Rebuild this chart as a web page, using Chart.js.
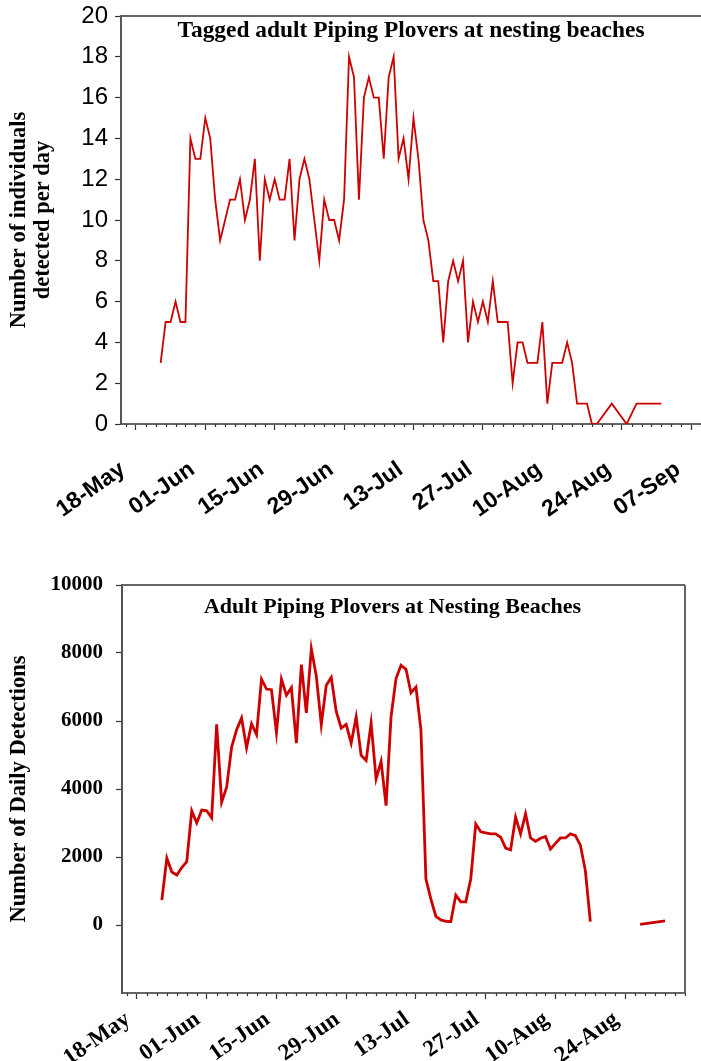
<!DOCTYPE html>
<html><head><meta charset="utf-8">
<script src="https://cdn.jsdelivr.net/npm/chart.js@4.4.1/dist/chart.umd.min.js"></script>
<style>
html,body{margin:0;padding:0;background:#fff;}
body{width:701px;height:1061px;position:relative;overflow:hidden;}
canvas{position:absolute;left:0;}
#c1{top:0;}
#c2{top:560px;}
</style></head><body>
<canvas id="c1" width="701" height="540"></canvas>
<canvas id="c2" width="701" height="501"></canvas>
<script>
// ---------- data ----------
const xTickLabels = ['18-May','01-Jun','15-Jun','29-Jun','13-Jul','27-Jul','10-Aug','24-Aug','07-Sep'];
const bottomXTickLabels = ['18-May','01-Jun','15-Jun','29-Jun','13-Jul','27-Jul','10-Aug','24-Aug'];
const topYTicks = [0,2,4,6,8,10,12,14,16,18,20];
const bottomYTicks = [0,2000,4000,6000,8000,10000];

const taggedStart = '23-May';
const taggedCounts = [
  3,5,5,6,5,5,14,13,13,
  15,14,11,9,10,11,11,12,10,11, 13,8,12,11,12,11,11,13,9,12, 13,12,10,8,11,10,10,9,11,18,
  17,11,16,17,16,16,13,17,18,13, 14,12,15,13,10,9,7,7,4,7, 8,7,8,4,6,5,6,5,7,5, 5,
  5,2,4,4,3,3,3,5,1,3, 3,3,4,3,1,1,1,0,0,null, null,1,null,null,0,null,1,1,1,1, 1,
  1
];

const detectionsStart = '23-May';
const dailyDetections = [
  730,1970,1560,1470,1690,1860,3360,3000,3380,
  3360,3150,5900,3610,4050,5230,5740,6090,5210,5920, 5600,7230,6940,6920,5660,7230,6760,6980,5350,7660,
  6240,8130,7320,5890,7050,7280,6280,5790,5900,5350,
  6120,4990,4840,5940,4300,4810,3510,6120,7250,7640, 7520,6830,7000,5740,1350,760,250,150,110,100,
  880,680,680,1350,2970,2740,2710,2680,2680,2580, 2260,
  2210,3170,2680,3270,2560,2460,2550,2600,2230,2400, 2560,2560,2680,2630,2350,1600,100
];
const lateDetectionDates = ['27-Aug','01-Sep'];
const lateDetections = [20,120];

// ---------- helpers ----------
const MONTHS = {May:4, Jun:5, Jul:6, Aug:7, Sep:8};
function dayOffset(s){
  const [d,m] = s.split('-');
  return Math.round((Date.UTC(2023, MONTHS[m], +d) - Date.UTC(2023,4,18)) / 86400000);
}
const topPoints = taggedCounts.map((v,i)=>({x: dayOffset(taggedStart)+i, y: v}));
const botPoints = dailyDetections.map((v,i)=>({x: dayOffset(detectionsStart)+i, y: v}));
botPoints.push({x: dayOffset(detectionsStart)+dailyDetections.length, y: null});
lateDetectionDates.forEach((d,i)=>botPoints.push({x: dayOffset(d), y: lateDetections[i]}));

// ---------- plugins ----------
const inTitle = {
  id:'inTitle',
  afterDraw(chart, args, o){
    const {ctx, chartArea:a} = chart;
    ctx.save();
    ctx.font = o.font;
    ctx.fillStyle = '#000';
    ctx.textAlign = 'center';
    ctx.textBaseline = 'alphabetic';
    ctx.fillText(o.text, (a.left+a.right)/2 + (o.dx||0), a.top + o.dy);
    ctx.restore();
  }
};
const frame = {
  id:'frame',
  afterDraw(chart, args, o){
    const {ctx, chartArea:a} = chart;
    ctx.save();
    ctx.strokeStyle = o.color; ctx.lineWidth = o.width;
    ctx.beginPath();
    ctx.moveTo(a.left, a.top); ctx.lineTo(a.right, a.top);
    if (o.right){ ctx.moveTo(a.right, a.top); ctx.lineTo(a.right, a.bottom); }
    ctx.stroke();
    ctx.restore();
  }
};
const minorTicks = {
  id:'minorTicks',
  afterDraw(chart, args, o){
    const s = chart.scales.x, {ctx} = chart;
    ctx.save();
    ctx.strokeStyle = o.color; ctx.lineWidth = o.width;
    ctx.beginPath();
    for (let v = o.from; v <= o.to; v += o.step){
      if (v % o.major === 0) continue;
      const px = Math.round(s.getPixelForValue(v)) + 0.5;
      if (px < chart.chartArea.left - 1 || px > chart.chartArea.right + 1) continue;
      ctx.moveTo(px, s.top); ctx.lineTo(px, s.top + o.len);
    }
    ctx.stroke();
    ctx.restore();
  }
};

function makeScales(cfg){
  return {
    x: {
      type:'linear', min: cfg.xmin, max: cfg.xmax,
      afterBuildTicks: s => { s.ticks = cfg.xLabels.map((l,i)=>({value: i*14})); },
      afterFit: s => { s.height = cfg.xHeight; s.paddingLeft = 0; s.paddingRight = 0; },
      grid:{drawOnChartArea:false, tickLength:6, tickColor:'#333', tickWidth:1.2},
      border:{color:'#666', width:2},
      ticks:{autoSkip:false, minRotation:35, maxRotation:35, padding:cfg.xPad, labelOffset:cfg.xLabelOffset,
        font: cfg.xFont, color:'#000', callback:(v,i)=>cfg.xLabels[i]}
    },
    y: {
      min: cfg.ymin, max: cfg.ymax,
      afterBuildTicks: s => { s.ticks = cfg.yTicks.map(v=>({value:v})); },
      afterFit: s => { s.width = cfg.yWidth; s.paddingTop = 0; s.paddingBottom = 0; },
      grid:{drawOnChartArea:false, tickLength:6, tickColor:'#333', tickWidth:1.2},
      border:{color:'#555', width:2},
      ticks:{padding: cfg.yPad, font: cfg.yFont, color:'#000', callback: v => String(v)},
      title:{display:true, text: cfg.yTitle, color:'#000',
        font:{family:'Liberation Serif', size:22.5, weight:'bold', lineHeight:1.03},
        padding:{top:8, bottom:0}}
    }
  };
}

new Chart(document.getElementById('c1'), {
  type:'line',
  data:{datasets:[{data: topPoints, borderColor:'#CC0000', borderWidth:1.8, pointRadius:0, spanGaps:true, tension:0}]},
  options:{
    responsive:false, animation:false, devicePixelRatio:1,
    layout:{autoPadding:false, padding:{top:16, right:0, left:0, bottom:0}},
    plugins:{
      legend:{display:false}, tooltip:{enabled:false},
      inTitle:{text:'Tagged adult Piping Plovers at nesting beaches', font:'bold 23.4px "Liberation Serif"', dy:21, dx:0},
      frame:{color:'#666', width:2, right:false},
      minorTicks:{from:-2, to:114, step:2, major:14, len:3, color:'#333', width:1.2}
    },
    scales: makeScales({xmin:-3, xmax:114, xLabels:xTickLabels, xHeight:116, xPad:26, xLabelOffset:-13,
      xFont:{family:'Liberation Sans', size:23, weight:'bold'},
      ymin:0, ymax:20, yTicks:topYTicks, yWidth:121, yPad:7,
      yFont:{family:'Liberation Sans', size:24},
      yTitle:['Number of individuals','detected per day']})
  },
  plugins:[inTitle, frame, minorTicks]
});

new Chart(document.getElementById('c2'), {
  type:'line',
  data:{datasets:[{data: botPoints, borderColor:'#CC0000', borderWidth:2.8, pointRadius:0, spanGaps:false, tension:0}]},
  options:{
    responsive:false, animation:false, devicePixelRatio:1,
    layout:{autoPadding:false, padding:{top:25, right:16, left:0, bottom:0}},
    plugins:{
      legend:{display:false}, tooltip:{enabled:false},
      inTitle:{text:'Adult Piping Plovers at Nesting Beaches', font:'bold 22px "Liberation Serif"', dy:28, dx:-11},
      frame:{color:'#666', width:2, right:true},
      minorTicks:{from:-2, to:110, step:2, major:14, len:3, color:'#333', width:1.2}
    },
    scales: makeScales({xmin:-3, xmax:110, xLabels:bottomXTickLabels, xHeight:68, xPad:7, xLabelOffset:-9,
      xFont:{family:'Liberation Serif', size:23, weight:'bold'},
      ymin:-2000, ymax:10000, yTicks:bottomYTicks, yWidth:122, yPad:13,
      yFont:{family:'Liberation Serif', size:21, weight:'bold'},
      yTitle:'Number of Daily Detections'})
  },
  plugins:[inTitle, frame, minorTicks]
});
</script>
</body></html>
